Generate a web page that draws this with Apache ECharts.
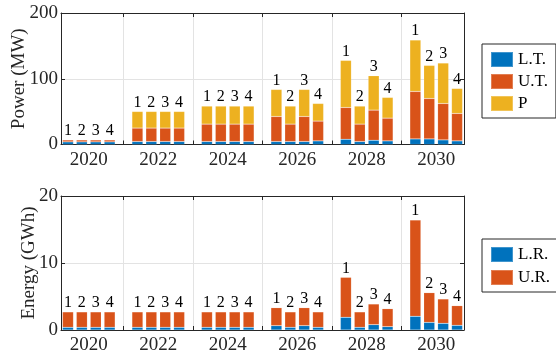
<!DOCTYPE html>
<html>
<head>
<meta charset="utf-8">
<script src="https://cdn.jsdelivr.net/npm/echarts@6/dist/echarts.min.js"></script>
<style>
  html, body { margin: 0; padding: 0; background: #fff; }
  #chart { width: 556px; height: 359px; }
</style>
</head>
<body>
<div id="chart"></div>
<script>
// Planning years (one group of four scenario bars per year)
const years = [2020, 2022, 2024, 2026, 2028, 2030];
const scenarios = ['1', '2', '3', '4'];
const yearTicks = [2021, 2023, 2025, 2027, 2029];

// Installed power (MW), rows = years, columns = scenarios 1..4
const powerLT = [
  [4, 4, 4, 4],
  [4.5, 4.5, 4.5, 4.5],
  [4.5, 4.5, 4.5, 4.5],
  [4.5, 4.5, 4.5, 5.5],
  [8, 4.5, 6.5, 5.5],
  [8.5, 8.5, 7, 5.5]
];
const powerUT = [
  [3, 3, 3, 3],
  [20.5, 20.5, 20.5, 20.5],
  [26.5, 26.5, 26.5, 26.5],
  [38.1, 26.5, 38.1, 30.1],
  [48.3, 26.5, 45.8, 34.6],
  [72.2, 61.5, 55.4, 41.7]
];
const powerP = [
  [0, 0, 0, 0],
  [25.2, 25.2, 25.2, 25.2],
  [27.4, 27.4, 27.4, 27.4],
  [41.1, 27.4, 41.1, 26.8],
  [71.6, 27.4, 52.3, 31.5],
  [78.2, 50.3, 61.5, 38]
];

// Stored energy (GWh)
const energyLR = [
  [0.4, 0.4, 0.4, 0.4],
  [0.4, 0.4, 0.4, 0.4],
  [0.4, 0.4, 0.4, 0.4],
  [0.65, 0.4, 0.65, 0.4],
  [1.9, 0.4, 0.8, 0.5],
  [2.05, 1.14, 1.0, 0.7]
];
const energyUR = [
  [2.3, 2.3, 2.3, 2.3],
  [2.3, 2.3, 2.3, 2.3],
  [2.3, 2.3, 2.3, 2.3],
  [2.68, 2.3, 2.68, 2.3],
  [5.96, 2.3, 3.08, 2.68],
  [14.35, 4.43, 3.63, 2.93]
];

const FONT = 'Liberation Serif';
const AXIS_COLOR = '#262626';
const GRID_COLOR = '#e3e3e3';
const COLORS = { blue: '#0072BD', orange: '#D95319', yellow: '#EDB120' };
const BAR_STEP = 0.4;   // spacing between scenario bars, in years

// Each point is [value, x]; the value comes first so it is the stacked dimension
function toPoints(rows) {
  const pts = [];
  rows.forEach((row, yi) => {
    row.forEach((v, si) => pts.push([v, years[yi] + (si - 1.5) * BAR_STEP]));
  });
  return pts;
}

function xAxes(gridIndex) {
  const common = {
    type: 'value', gridIndex: gridIndex, min: 2019.2, max: 2030.8,
    axisLine: { show: true, onZero: false, lineStyle: { color: AXIS_COLOR, width: 1 } },
    axisTick: { show: true, inside: true, length: 4, customValues: yearTicks, lineStyle: { color: AXIS_COLOR } }
  };
  return [
    Object.assign({}, common, {
      position: 'bottom',
      axisLabel: {
        show: true, customValues: years, margin: 6,
        fontFamily: FONT, fontSize: 19, color: AXIS_COLOR,
        formatter: v => String(v)
      },
      splitLine: { show: true, lineStyle: { color: GRID_COLOR, width: 1 } }
    }),
    Object.assign({}, common, {
      position: 'top',
      axisLabel: { show: false },
      splitLine: { show: false }
    })
  ];
}

function yAxes(gridIndex, max, interval, name, nameGap) {
  const common = {
    type: 'value', gridIndex: gridIndex, min: 0, max: max, interval: interval,
    axisLine: { show: true, onZero: false, lineStyle: { color: AXIS_COLOR, width: 1 } },
    axisTick: { show: true, inside: true, length: 4, lineStyle: { color: AXIS_COLOR } }
  };
  return [
    Object.assign({}, common, {
      position: 'left',
      name: name, nameLocation: 'middle', nameRotate: 90, nameGap: nameGap,
      nameMoveOverlap: false,
      nameTextStyle: { fontFamily: FONT, fontSize: 19, color: AXIS_COLOR },
      axisLabel: { show: true, margin: 3, fontFamily: FONT, fontSize: 19, color: AXIS_COLOR },
      splitLine: { show: true, lineStyle: { color: GRID_COLOR, width: 1 } }
    }),
    Object.assign({}, common, {
      position: 'right',
      axisLabel: { show: false },
      splitLine: { show: false }
    })
  ];
}

const barLabel = {
  show: true, position: 'top', distance: 1,
  fontFamily: FONT, fontSize: 16, color: '#000',
  formatter: p => scenarios[p.dataIndex % scenarios.length]
};

function barSeries(name, rows, color, xi, yi, stack, withLabel) {
  return {
    name: name, type: 'bar', stack: stack,
    xAxisIndex: xi, yAxisIndex: yi,
    barWidth: 11,
    dimensions: ['amount', 'year'],
    encode: { x: 'year', y: 'amount' },
    itemStyle: { color: color, borderColor: 'rgba(255,255,255,0.25)', borderWidth: 0.5 },
    label: withLabel ? barLabel : { show: false },
    emphasis: { disabled: true },
    data: toPoints(rows)
  };
}

const legendBase = {
  orient: 'vertical', left: 482, icon: 'rect',
  itemWidth: 22, itemHeight: 15,
  borderColor: AXIS_COLOR, borderWidth: 1, backgroundColor: '#fff',
  textStyle: { fontFamily: FONT, fontSize: 17, color: '#000', lineHeight: 15 },
  selectedMode: false
};

const option = {
  animation: false,
  grid: [
    { left: 61, top: 13, width: 403, height: 131.5 },
    { left: 61, top: 196, width: 403, height: 134 }
  ],
  xAxis: [...xAxes(0), ...xAxes(1)],
  yAxis: [...yAxes(0, 200, 100, 'Power (MW)', 32), ...yAxes(1, 20, 10, 'Energy (GWh)', 22)],
  legend: [
    Object.assign({}, legendBase, { top: 44, itemGap: 5, padding: [7, 8, 6, 8], data: ['L.T.', 'U.T.', 'P'] }),
    Object.assign({}, legendBase, { top: 239, itemGap: 6, padding: [7, 7, 6, 8], data: ['L.R.', 'U.R.'] })
  ],
  series: [
    barSeries('L.T.', powerLT, COLORS.blue, 0, 0, 'power', false),
    barSeries('U.T.', powerUT, COLORS.orange, 0, 0, 'power', false),
    barSeries('P', powerP, COLORS.yellow, 0, 0, 'power', true),
    barSeries('L.R.', energyLR, COLORS.blue, 2, 2, 'energy', false),
    barSeries('U.R.', energyUR, COLORS.orange, 2, 2, 'energy', true)
  ]
};

echarts.init(document.getElementById('chart'), null, { renderer: 'canvas' }).setOption(option);
</script>
</body>
</html>
